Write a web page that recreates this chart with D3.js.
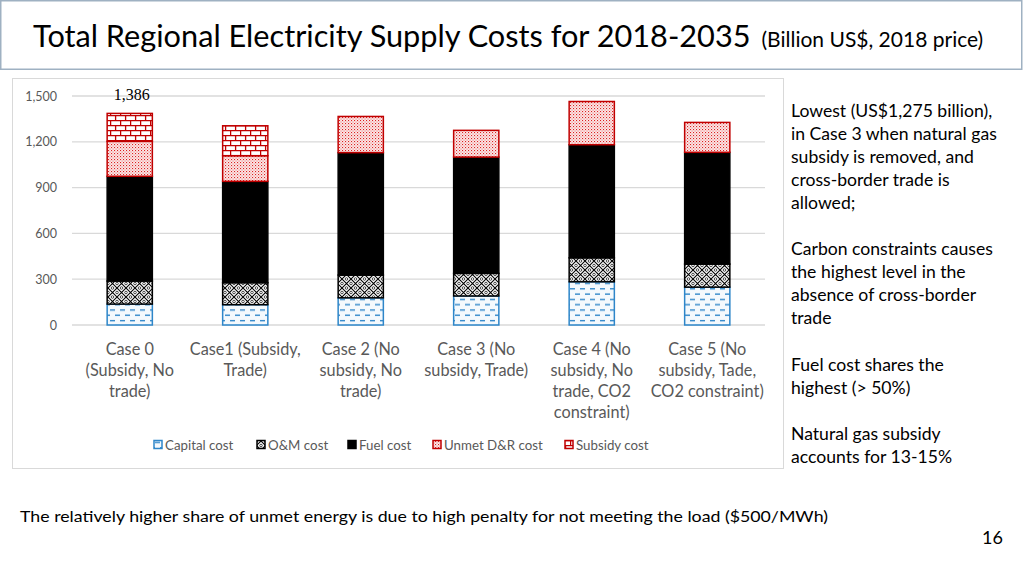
<!DOCTYPE html>
<html><head><meta charset="utf-8">
<script src="https://cdn.jsdelivr.net/npm/d3@7"></script>
<style>body{margin:0;background:#fff}svg{display:block}</style>
</head><body>
<script>
const categories = ["Case 0", "Case 1", "Case 2", "Case 3", "Case 4", "Case 5"];
const categoryLabels = [
  ["Case 0", "(Subsidy, No", "trade)"],
  ["Case1 (Subsidy,", "Trade)"],
  ["Case 2 (No", "subsidy, No", "trade)"],
  ["Case 3 (No", "subsidy, Trade)"],
  ["Case 4 (No", "subsidy, No", "trade, CO2", "constraint)"],
  ["Case 5 (No", "subsidy, Tade,", "CO2 constraint)"]
];
const seriesNames = ["Capital cost", "O&M cost", "Fuel cost", "Unmet D&R cost", "Subsidy cost"];
const capitalCost = [137, 133, 178, 190, 283, 248];
const omCost = [151, 144, 149, 148, 157, 151];
const fuelCost = [686, 664, 802, 762, 741, 732];
const unmetCost = [229, 168, 237, 175, 283, 196];
const subsidyCost = [183, 196, 0, 0, 0, 0];
const yTicks = [0, 300, 600, 900, 1200, 1500];
const annotation = "1,386";
const titleMain = "Total Regional Electricity Supply Costs for 2018-2035";
const titleSub = "(Billion US$, 2018 price)";
const sideText = [
  "Lowest (US$1,275 billion),", "in Case 3 when natural gas", "subsidy is removed, and",
  "cross-border trade is", "allowed;", "",
  "Carbon constraints causes", "the highest level in the", "absence of cross-border", "trade", "",
  "Fuel cost shares the", "highest (> 50%)", "",
  "Natural gas subsidy", "accounts for 13-15%"
];
const footText = "The relatively higher share of unmet energy is due to high penalty for not meeting the load ($500/MWh)";
const pageNum = "16";

const seriesValues = [capitalCost, omCost, fuelCost, unmetCost, subsidyCost];
const fills = ["url(#pCap)", "url(#pOM)", "#000", "url(#pUnmet)", "url(#pSub)"];
const strokes = ["#2e86c9", "#000", "#000", "#c00000", "#c00000"];

const W = 1024, H = 575;
const svg = d3.select("body").append("svg").attr("width", W).attr("height", H);
const defs = svg.append("defs");

// Patterns
let p = defs.append("pattern").attr("id", "pCap").attr("patternUnits", "userSpaceOnUse").attr("width", 10).attr("height", 10.6);
p.append("rect").attr("width", 10).attr("height", 10.6).attr("fill", "#f4f9fd");
p.append("line").attr("x1", 0).attr("x2", 5).attr("y1", 2.6).attr("y2", 2.6).attr("stroke", "#2e86c9").attr("stroke-width", 1.4);
p.append("line").attr("x1", 5).attr("x2", 10).attr("y1", 7.9).attr("y2", 7.9).attr("stroke", "#2e86c9").attr("stroke-width", 1.4);

p = defs.append("pattern").attr("id", "pOM").attr("patternUnits", "userSpaceOnUse").attr("width", 9).attr("height", 9);
p.append("rect").attr("width", 9).attr("height", 9).attr("fill", "#fff");
p.append("path").attr("d", "M0,0L9,9M9,0L0,9").attr("stroke", "#000").attr("stroke-width", 1.1);
[[4.5,0],[0,4.5],[9,4.5],[4.5,9]].forEach(c => p.append("circle").attr("cx", c[0]).attr("cy", c[1]).attr("r", 1.3).attr("fill", "none").attr("stroke", "#000").attr("stroke-width", 0.7));

p = defs.append("pattern").attr("id", "pUnmet").attr("patternUnits", "userSpaceOnUse").attr("width", 3).attr("height", 3);
p.append("rect").attr("width", 3).attr("height", 3).attr("fill", "#fbeaea");
p.append("rect").attr("x", 0).attr("y", 0).attr("width", 1.1).attr("height", 1.1).attr("fill", "#d22");
p.append("rect").attr("x", 1.5).attr("y", 1.5).attr("width", 1.1).attr("height", 1.1).attr("fill", "#e77");

p = defs.append("pattern").attr("id", "pSub").attr("patternUnits", "userSpaceOnUse").attr("width", 10).attr("height", 10);
p.append("rect").attr("width", 10).attr("height", 10).attr("fill", "#fff");
p.append("path").attr("d", "M0,0.6H10M0,5.6H10M0.6,0V5.6M5.6,5.6V10").attr("stroke", "#c00000").attr("stroke-width", 1.3);

// Title box
svg.append("rect").attr("x", 0.75).attr("y", 0.75).attr("width", 1021).attr("height", 68.5)
  .attr("fill", "#fff").attr("stroke", "#9fb1c2").attr("stroke-width", 1.5);
const tt = svg.append("text").attr("x", 33).attr("y", 47).attr("font-family", "Lato").attr("fill", "#000");
tt.append("tspan").attr("font-size", 30.7).text(titleMain);
tt.append("tspan").attr("font-size", 21).attr("dx", 11).text(titleSub);

// Chart frame
svg.append("rect").attr("x", 12.5).attr("y", 78.5).attr("width", 771).attr("height", 390)
  .attr("fill", "#fff").attr("stroke", "#d9d9d9").attr("stroke-width", 1);

const x = d3.scaleBand().domain(categories).range([72, 765]).paddingInner(0.6).paddingOuter(0.3);
const y = d3.scaleLinear().domain([0, 1500]).range([325, 96]);

// grid
svg.append("g").selectAll("line").data(yTicks).join("line")
  .attr("x1", 72).attr("x2", 765).attr("y1", d => y(d)).attr("y2", d => y(d))
  .attr("stroke", "#d9d9d9").attr("stroke-width", 1.3);
const yAxis = d3.axisLeft(y).tickValues(yTicks).tickFormat(d3.format(",")).tickSize(0).tickPadding(0);
const ya = svg.append("g").attr("transform", "translate(57,0)").call(yAxis);
ya.select(".domain").remove();
ya.selectAll("text").attr("font-family", "Lato").attr("font-size", 12.5).attr("fill", "#595959");

// stacks
const table = categories.map((c, i) => {
  const o = {cat: c};
  seriesNames.forEach((s, j) => o[s] = seriesValues[j][i]);
  return o;
});
const stack = d3.stack().keys(seriesNames)(table);
stack.forEach((layer, j) => {
  svg.append("g").selectAll("rect").data(layer.filter(d => d[1] - d[0] > 0)).join("rect")
    .attr("x", d => x(d.data.cat) + 0.5)
    .attr("width", x.bandwidth() - 1)
    .attr("y", d => y(d[1]))
    .attr("height", d => y(d[0]) - y(d[1]))
    .attr("fill", fills[j]).attr("stroke", strokes[j]).attr("stroke-width", 1.5);
});

// annotation
svg.append("text").attr("x", x(categories[0]) + x.bandwidth() / 2 + 2).attr("y", 100)
  .attr("text-anchor", "middle").attr("font-family", "Liberation Serif").attr("font-size", 16).attr("fill", "#000").text(annotation);

// category labels
categories.forEach((c, i) => {
  const t = svg.append("text").attr("text-anchor", "middle").attr("font-family", "Lato").attr("font-size", 16.3).attr("fill", "#595959");
  categoryLabels[i].forEach((ln, k) => t.append("tspan").attr("x", x(c) + x.bandwidth() / 2).attr("y", 354.5 + k * 21.2).text(ln));
});

// legend
const legendX = [154, 257, 348, 433, 565];
seriesNames.forEach((s, j) => {
  svg.append("rect").attr("x", legendX[j]).attr("y", 440.5).attr("width", 8).attr("height", 8)
    .attr("fill", fills[j]).attr("stroke", strokes[j]).attr("stroke-width", 1.5);
  svg.append("text").attr("x", legendX[j] + 11).attr("y", 449.5).attr("font-family", "Lato").attr("font-size", 13.3)
    .attr("fill", "#595959").text(s);
});

// side text
const st = svg.append("text").attr("font-family", "Lato").attr("font-size", 17.6).attr("fill", "#000");
sideText.forEach((ln, k) => st.append("tspan").attr("x", 791).attr("y", 116.5 + k * 23.1).text(ln));

// footer
svg.append("text").attr("x", 20).attr("y", 522).attr("font-family", "Lato").attr("font-size", 16)
  .attr("textLength", 808).attr("lengthAdjust", "spacingAndGlyphs").attr("fill", "#000").text(footText);
svg.append("text").attr("x", 1003).attr("y", 544).attr("text-anchor", "end").attr("font-family", "Lato").attr("font-size", 18)
  .attr("fill", "#000").text(pageNum);
</script>
</body></html>
